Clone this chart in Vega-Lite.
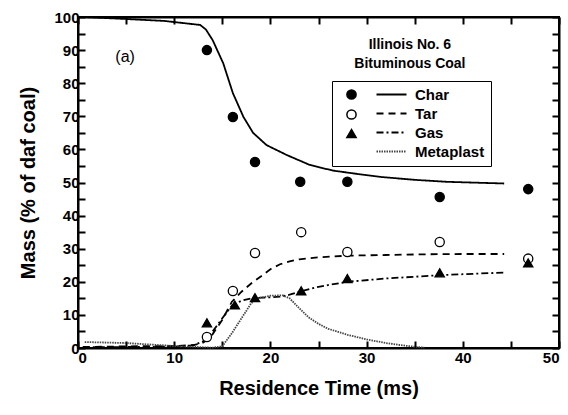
{
  "$schema": "https://vega.github.io/schema/vega-lite/v6.json",
  "width": 481,
  "height": 331,
  "autosize": "none",
  "padding": {"left": 78, "top": 17, "right": 9, "bottom": 67},
  "background": "white",
  "config": {
    "font": "Liberation Sans",
    "view": {"stroke": "black", "strokeWidth": 2},
    "axis": {
      "domainColor": "black", "domainWidth": 2,
      "tickColor": "black", "tickWidth": 2, "tickSize": -7,
      "labelFont": "Liberation Sans", "labelFontWeight": "bold", "labelFontSize": 15, "labelColor": "black",
      "titleFont": "Liberation Sans", "titleFontWeight": "bold", "titleFontSize": 20, "titleColor": "black",
      "grid": false
    }
  },
  "datasets": {
    "curves": [
      {"t": 0.5, "mass": 100, "series": "Char"},
      {"t": 5, "mass": 99.4, "series": "Char"},
      {"t": 9, "mass": 98.8, "series": "Char"},
      {"t": 12.7, "mass": 97.6, "series": "Char"},
      {"t": 13.3, "mass": 96.2, "series": "Char"},
      {"t": 14, "mass": 93, "series": "Char"},
      {"t": 15.1, "mass": 86, "series": "Char"},
      {"t": 16.1, "mass": 77, "series": "Char"},
      {"t": 17.2, "mass": 69.8, "series": "Char"},
      {"t": 18.2, "mass": 65, "series": "Char"},
      {"t": 19.6, "mass": 61.3, "series": "Char"},
      {"t": 21.7, "mass": 58.3, "series": "Char"},
      {"t": 24.1, "mass": 55.3, "series": "Char"},
      {"t": 26.5, "mass": 53.6, "series": "Char"},
      {"t": 29, "mass": 52.6, "series": "Char"},
      {"t": 31.4, "mass": 51.7, "series": "Char"},
      {"t": 35, "mass": 50.8, "series": "Char"},
      {"t": 38.4, "mass": 50.2, "series": "Char"},
      {"t": 44.3, "mass": 49.7, "series": "Char"},
      {"t": 0.5, "mass": 0.3, "series": "Tar"},
      {"t": 5, "mass": 0.5, "series": "Tar"},
      {"t": 10, "mass": 0.6, "series": "Tar"},
      {"t": 12, "mass": 0.9, "series": "Tar"},
      {"t": 13, "mass": 1.6, "series": "Tar"},
      {"t": 13.5, "mass": 2.6, "series": "Tar"},
      {"t": 14, "mass": 4.2, "series": "Tar"},
      {"t": 15, "mass": 8.5, "series": "Tar"},
      {"t": 16, "mass": 14, "series": "Tar"},
      {"t": 17, "mass": 17, "series": "Tar"},
      {"t": 18, "mass": 19.5, "series": "Tar"},
      {"t": 19, "mass": 21.6, "series": "Tar"},
      {"t": 20, "mass": 23.8, "series": "Tar"},
      {"t": 21, "mass": 25.3, "series": "Tar"},
      {"t": 22, "mass": 26.2, "series": "Tar"},
      {"t": 23, "mass": 26.8, "series": "Tar"},
      {"t": 25, "mass": 27.4, "series": "Tar"},
      {"t": 28, "mass": 27.9, "series": "Tar"},
      {"t": 32, "mass": 28.1, "series": "Tar"},
      {"t": 36, "mass": 28.3, "series": "Tar"},
      {"t": 40, "mass": 28.4, "series": "Tar"},
      {"t": 44.3, "mass": 28.4, "series": "Tar"},
      {"t": 0.5, "mass": 0.2, "series": "Gas"},
      {"t": 10, "mass": 0.4, "series": "Gas"},
      {"t": 12, "mass": 0.8, "series": "Gas"},
      {"t": 13, "mass": 2, "series": "Gas"},
      {"t": 14, "mass": 5, "series": "Gas"},
      {"t": 15, "mass": 9, "series": "Gas"},
      {"t": 16, "mass": 12.8, "series": "Gas"},
      {"t": 17, "mass": 14.3, "series": "Gas"},
      {"t": 18, "mass": 15, "series": "Gas"},
      {"t": 19, "mass": 15.2, "series": "Gas"},
      {"t": 20, "mass": 15.3, "series": "Gas"},
      {"t": 21, "mass": 15.5, "series": "Gas"},
      {"t": 22, "mass": 16.1, "series": "Gas"},
      {"t": 23, "mass": 17, "series": "Gas"},
      {"t": 25, "mass": 18.5, "series": "Gas"},
      {"t": 28, "mass": 20, "series": "Gas"},
      {"t": 32, "mass": 21, "series": "Gas"},
      {"t": 37.6, "mass": 22, "series": "Gas"},
      {"t": 44.3, "mass": 22.8, "series": "Gas"},
      {"t": 0.7, "mass": 1.8, "series": "Metaplast"},
      {"t": 5, "mass": 1.5, "series": "Metaplast"},
      {"t": 10, "mass": 0.6, "series": "Metaplast"},
      {"t": 14, "mass": 0.1, "series": "Metaplast"},
      {"t": 15, "mass": 0.5, "series": "Metaplast"},
      {"t": 16, "mass": 4.5, "series": "Metaplast"},
      {"t": 17, "mass": 9, "series": "Metaplast"},
      {"t": 18, "mass": 13.5, "series": "Metaplast"},
      {"t": 18.7, "mass": 15, "series": "Metaplast"},
      {"t": 20, "mass": 15.8, "series": "Metaplast"},
      {"t": 21.3, "mass": 15.9, "series": "Metaplast"},
      {"t": 22, "mass": 15, "series": "Metaplast"},
      {"t": 23, "mass": 12, "series": "Metaplast"},
      {"t": 24, "mass": 9.2, "series": "Metaplast"},
      {"t": 25, "mass": 7.3, "series": "Metaplast"},
      {"t": 26, "mass": 5.8, "series": "Metaplast"},
      {"t": 28, "mass": 4, "series": "Metaplast"},
      {"t": 30, "mass": 2.6, "series": "Metaplast"},
      {"t": 32, "mass": 1.5, "series": "Metaplast"},
      {"t": 34, "mass": 0.7, "series": "Metaplast"},
      {"t": 36, "mass": 0.1, "series": "Metaplast"}
    ],
    "points": [
      {"t": 13.4, "mass": 90, "kind": "Char"},
      {"t": 16.1, "mass": 69.8, "kind": "Char"},
      {"t": 18.4, "mass": 56.2, "kind": "Char"},
      {"t": 23.1, "mass": 50.2, "kind": "Char"},
      {"t": 28, "mass": 50.2, "kind": "Char"},
      {"t": 37.6, "mass": 45.6, "kind": "Char"},
      {"t": 46.8, "mass": 48, "kind": "Char"},
      {"t": 13.4, "mass": 3.3, "kind": "Tar"},
      {"t": 16.1, "mass": 17.2, "kind": "Tar"},
      {"t": 18.4, "mass": 28.7, "kind": "Tar"},
      {"t": 23.2, "mass": 35, "kind": "Tar"},
      {"t": 28, "mass": 29, "kind": "Tar"},
      {"t": 37.6, "mass": 32, "kind": "Tar"},
      {"t": 46.8, "mass": 27, "kind": "Tar"},
      {"t": 13.4, "mass": 7.6, "kind": "Gas"},
      {"t": 16.3, "mass": 13, "kind": "Gas"},
      {"t": 18.4, "mass": 15.2, "kind": "Gas"},
      {"t": 23.2, "mass": 17.3, "kind": "Gas"},
      {"t": 28, "mass": 21, "kind": "Gas"},
      {"t": 37.6, "mass": 22.7, "kind": "Gas"},
      {"t": 46.8, "mass": 25.7, "kind": "Gas"}
    ],
    "notes": [
      {"t": 4.9, "mass": 88, "label": "(a)", "group": "panel"},
      {"t": 34.5, "mass": 91.5, "label": "Illinois No. 6", "group": "coal"},
      {"t": 34.5, "mass": 85.8, "label": "Bituminous Coal", "group": "coal"}
    ]
  },
  "layer": [
    {
      "data": {"name": "curves"},
      "mark": {"type": "line", "strokeWidth": 1.8},
      "encoding": {
        "x": {"field": "t", "type": "quantitative",
          "scale": {"domain": [0, 50], "nice": false},
          "axis": {"orient": "bottom", "title": "Residence Time (ms)", "values": [0,5,10,15,20,25,30,35,40,45,50],
            "labelExpr": "datum.value % 10 === 0 ? datum.label : ''", "labelPadding": 9, "titlePadding": 13}},
        "y": {"field": "mass", "type": "quantitative",
          "scale": {"domain": [0, 100], "nice": false},
          "axis": {"orient": "left", "title": "Mass (% of daf coal)", "values": [0,5,10,15,20,25,30,35,40,45,50,55,60,65,70,75,80,85,90,95,100],
            "labelExpr": "datum.value % 10 === 0 ? datum.label : ''", "labelPadding": 6, "titlePadding": 15}},
        "detail": {"field": "series"},
        "strokeDash": {"field": "series", "type": "nominal",
          "scale": {"domain": ["Char", "Tar", "Gas", "Metaplast"], "range": [[1, 0], [7, 5], [7, 3, 2, 3], [1.5, 1]]},
          "legend": {"orient": "none", "legendX": 254, "legendY": 64, "title": null,
            "symbolType": "M-3,0H3", "symbolSize": 100, "symbolStrokeWidth": 1.8,
            "labelFont": "Liberation Sans", "labelFontWeight": "bold", "labelFontSize": 15, "labelColor": "black",
            "strokeColor": "black", "padding": 6, "rowPadding": 3,
            "symbolOffset": 46, "labelOffset": 16}},
        "color": {"field": "series", "type": "nominal",
          "scale": {"domain": ["Char", "Tar", "Gas", "Metaplast"], "range": ["black", "black", "black", "#444444"]}}
      }
    },
    {
      "data": {"name": "points"},
      "mark": {"type": "point", "stroke": "black", "strokeWidth": 1.3, "opacity": 1, "size": 85},
      "encoding": {
        "x": {"field": "t", "type": "quantitative",
          "axis": {"orient": "top", "title": null, "labels": false, "values": [0,5,10,15,20,25,30,35,40,45,50]}},
        "y": {"field": "mass", "type": "quantitative",
          "axis": {"orient": "right", "title": null, "labels": false, "values": [0,5,10,15,20,25,30,35,40,45,50,55,60,65,70,75,80,85,90,95,100]}},
        "shape": {"field": "kind", "type": "nominal",
          "scale": {"domain": ["Char", "Tar", "Gas"], "range": ["circle", "circle", "triangle-up"]},
          "legend": {"orient": "none", "legendX": 266, "legendY": 70, "title": null, "padding": 0, "rowPadding": 3,
            "labelFontSize": 15, "labelOpacity": 0, "symbolSize": 85,
            "encode": {"symbols": {"update": {"stroke": {"value": "black"}, "strokeWidth": {"value": 1.3}}}}}},
        "fill": {"field": "kind", "type": "nominal",
          "scale": {"domain": ["Char", "Tar", "Gas"], "range": ["black", "white", "black"]}}
      }
    },
    {
      "data": {"name": "notes"},
      "transform": [{"filter": "datum.group === 'panel'"}],
      "mark": {"type": "text", "font": "Liberation Sans", "fontSize": 16, "color": "black"},
      "encoding": {
        "x": {"field": "t", "type": "quantitative", "axis": null},
        "y": {"field": "mass", "type": "quantitative", "axis": null},
        "text": {"field": "label"}
      }
    },
    {
      "data": {"name": "notes"},
      "transform": [{"filter": "datum.group === 'coal'"}],
      "mark": {"type": "text", "font": "Liberation Sans", "fontWeight": "bold", "fontSize": 14, "color": "black"},
      "encoding": {
        "x": {"field": "t", "type": "quantitative", "axis": null},
        "y": {"field": "mass", "type": "quantitative", "axis": null},
        "text": {"field": "label"}
      }
    }
  ],
  "resolve": {"axis": {"x": "independent", "y": "independent"}}
}
